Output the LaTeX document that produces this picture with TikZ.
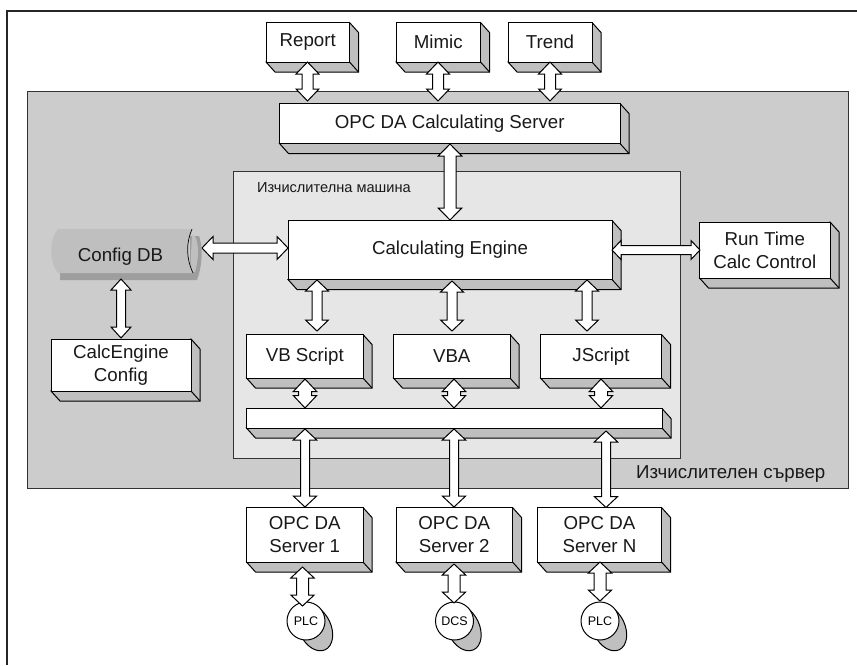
\documentclass[tikz,border=0pt]{standalone}
\usepackage{fontspec}
\setmainfont{Liberation Sans}
\usetikzlibrary{calc}
\definecolor{panelA}{HTML}{CCCCCC}
\definecolor{panelB}{HTML}{E6E6E6}
\definecolor{depth}{HTML}{BFBFBF}
\definecolor{dbshade}{HTML}{9E9E9E}
\tikzset{
  edge/.style={draw=black,line width=1pt,line join=miter},
  face/.style={edge,fill=white,inner sep=0pt,outer sep=0pt,align=center,font=\fontsize{18.7}{23}\selectfont,text=black!90},
  side/.style={edge,fill=depth},
  panel/.style={draw=black!80,line width=1pt},
  dblarrow/.style={edge,fill=white,line width=1pt},
  round/.style={edge,fill=white,circle,inner sep=0pt,outer sep=0pt,minimum size=38pt,font=\fontsize{12.5}{14}\selectfont},
  lab/.style={inner sep=0pt,text=black!90}
}
% name, x1, y1, x2, y2, depth, text
\newcommand{\tdbox}[7]{%
  \fill[side] (#2,#5) -- (#2+#6,#5+#6+1) -- (#4+#6,#5+#6+1) -- (#4+#6,#3+#6+1) -- (#4,#3) -- cycle;
  \draw[edge] (#4,#5) -- (#4+#6,#5+#6+1);
  \node[face,minimum width={(#4-#2)*1pt},minimum height={(#5-#3)*1pt}] (#1) at ({(#2+#4)/2},{(#3+#5)/2}) {#7};
}
\newcommand{\lowered}[1]{\raisebox{-1.5pt}{#1}}
% from, to, shaft half, head half, head length
\newcommand{\dbl}[5]{%
  \draw[dblarrow] let \p1=($(#1)!#5pt!(#2)$), \p2=($(#2)!#5pt!(#1)$) in
    (#1) -- ($(\p1)!#4pt!90:(#2)$) -- ($(\p1)!#3pt!90:(#2)$) -- ($(\p2)!#3pt!90:(#2)$)
    -- ($(\p2)!#4pt!90:(#2)$) -- (#2) -- ($(\p2)!#4pt!-90:(#2)$) -- ($(\p2)!#3pt!-90:(#2)$)
    -- ($(\p1)!#3pt!-90:(#2)$) -- ($(\p1)!#4pt!-90:(#2)$) -- cycle;
}
% name, cx, cy, text
\newcommand{\disc}[4]{%
  \draw[side,rotate around={25:(#2+9,#3+7)}] (#2+9,#3+7) ellipse (16 and 24);
  \node[round] (#1) at (#2,#3) {#4};
}
\begin{document}
\begin{tikzpicture}[x=1pt,y=-1pt]
\useasboundingbox (0,0) rectangle (857,665);
\fill[white] (0,0) rectangle (857,665);
\draw[black!85,line width=2pt] (6.5,665) -- (6.5,10.5) -- (857,10.5);
% panels
\node[panel,fill=panelA,inner sep=0pt,outer sep=0pt,minimum width=821pt,minimum height=397pt] (server) at (438,289.5) {};
\node[panel,fill=panelB,inner sep=0pt,outer sep=0pt,minimum width=447.5pt,minimum height=287pt] (machine) at (456.75,314.5) {};
\node[lab,anchor=west,font=\fontsize{14.6}{16}\selectfont] (machlab) at (257,188) {Изчислителна машина};
\node[lab,anchor=west,font=\fontsize{18.7}{20}\selectfont] (servlab) at (636,474) {Изчислителен сървер};
% boxes
\tdbox{report}{266}{22.5}{349.5}{62}{9}{\lowered{Report}}
\tdbox{mimic}{396}{22.5}{480.5}{62}{9}{\lowered{Mimic}}
\tdbox{trend}{508}{22.5}{592}{62}{9}{\lowered{Trend}}
\tdbox{calcserver}{279.5}{103.5}{620}{143.5}{9}{\lowered{OPC DA Calculating Server}}
\tdbox{engine}{288}{220.5}{612}{279.5}{9}{\lowered{Calculating Engine}}
\tdbox{runtime}{699.5}{222}{830}{278}{9}{Run Time\\Calc Control}
\tdbox{cfgtool}{51}{339}{191}{391}{9}{CalcEngine\\Config}
\tdbox{vbs}{246.5}{334.5}{363}{378}{9}{\lowered{VB Script}}
\tdbox{vba}{393.5}{334.5}{510}{378}{9}{\lowered{VBA}}
\tdbox{js}{540.5}{334.5}{661.5}{378}{9}{\lowered{JScript}}
\tdbox{bus}{246.5}{408.5}{662}{428}{9}{}
\tdbox{opca}{246.5}{507.5}{363}{562}{9}{OPC DA\\Server 1}
\tdbox{opcb}{396}{507.5}{512.5}{562}{9}{OPC DA\\Server 2}
\tdbox{opcn}{537.5}{507.5}{661.5}{562}{9}{OPC DA\\Server N}
% Config DB
\fill[dbshade] (60,273) -- (60,280) -- (197,280) .. controls (201,270) and (204,250) .. (199,236) -- (190,236) -- (190,273) -- cycle;
\fill[depth] (192,235) -- (195,236) .. controls (199,245) and (199,258) .. (195,272) -- (190,273) -- cycle;
\fill[depth] (58,229) -- (192,229) .. controls (186,243) and (186,258) .. (193,273) -- (58,273) .. controls (49,262) and (49,240) .. (58,229) -- cycle;
\draw[black,line width=.7pt] (192,229) .. controls (186,243) and (186,258) .. (193,273);
\node[lab,font=\fontsize{18.7}{23}\selectfont] (configdb) at (120.5,257) {Config DB};
% discs
\disc{plca}{306}{621}{PLC}
\disc{dcs}{454.5}{621}{DCS}
\disc{plcn}{600}{621}{PLC}
% connector ends
\coordinate (a1) at (307.5,62); \coordinate (a2) at (307.5,101);
\coordinate (b1) at (438,62);   \coordinate (b2) at (438,101);
\coordinate (c1) at (550,62);   \coordinate (c2) at (550,101);
\coordinate (d1) at (450,144);  \coordinate (d2) at (450,220);
\coordinate (e1) at (317,280);  \coordinate (e2) at (317,331);
\coordinate (f1) at (452,281);  \coordinate (f2) at (452,331);
\coordinate (g1) at (587,280);  \coordinate (g2) at (587,331);
\coordinate (h1) at (305,379);  \coordinate (h2) at (305,408);
\coordinate (i1) at (454,379);  \coordinate (i2) at (454,408);
\coordinate (j1) at (601,379);  \coordinate (j2) at (601,408);
\coordinate (k1) at (305,429);  \coordinate (k2) at (305,507);
\coordinate (l1) at (454,429);  \coordinate (l2) at (454,507);
\coordinate (m1) at (606,431);  \coordinate (m2) at (606,507.5);
\coordinate (n1) at (302.5,567);\coordinate (n2) at (302.5,606);
\coordinate (o1) at (454,564);  \coordinate (o2) at (454,603);
\coordinate (p1) at (600,562);  \coordinate (p2) at (600,601);
\coordinate (q1) at (202,248);  \coordinate (q2) at (288,248);
\coordinate (r1) at (612,250);  \coordinate (r2) at (700,250);
\coordinate (s1) at (121,279);  \coordinate (s2) at (121,338);
% connectors
\dbl{a1}{a2}{5.5}{11.5}{12}
\dbl{b1}{b2}{5.5}{11.5}{12}
\dbl{c1}{c2}{5.5}{11.5}{12}
\dbl{d1}{d2}{6}{11.8}{12}
\dbl{e1}{e2}{5}{11.5}{11}
\dbl{f1}{f2}{5}{11.5}{11}
\dbl{g1}{g2}{5}{11.5}{11}
\dbl{h1}{h2}{6.5}{11.7}{12.5}
\dbl{i1}{i2}{6.5}{11.7}{12.5}
\dbl{j1}{j2}{6.5}{11.7}{12.5}
\dbl{k1}{k2}{4.5}{11.7}{11}
\dbl{l1}{l2}{4.5}{11.7}{11}
\dbl{m1}{m2}{4.5}{11.7}{11}
\dbl{n1}{n2}{6}{11.7}{11}
\dbl{o1}{o2}{6}{11.7}{11}
\dbl{p1}{p2}{6}{11.7}{11}
\dbl{q1}{q2}{5}{11.5}{11}
\dbl{r1}{r2}{4.5}{9.5}{9}
\dbl{s1}{s2}{4.5}{10}{11}
\end{tikzpicture}
\end{document}
